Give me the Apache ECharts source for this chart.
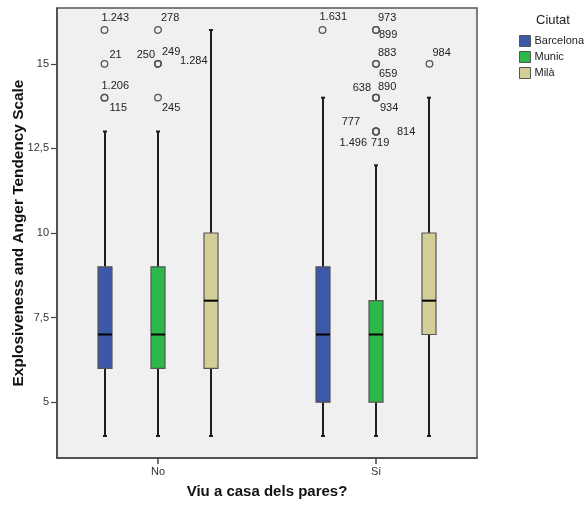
<!DOCTYPE html>
<html>
<head>
<meta charset="utf-8">
<script src="https://cdn.jsdelivr.net/npm/echarts@6/dist/echarts.min.js"></script>
<style>
html,body{margin:0;padding:0;background:#fff;}
#chart{width:587px;height:506px;}
</style>
</head>
<body>
<div id="chart"></div>
<script>
// ---- Data ----
const groups = ['No', 'Si'];
const cities = ['Barcelona', 'Munic', 'Milà'];
const yTicks = [5, 7.5, 10, 12.5, 15];
// [whiskerLow, Q1, median, Q3, whiskerHigh] per group (No, Si)
const barcelonaBox = [[4, 6, 7, 9, 13], [4, 5, 7, 9, 14]];
const municBox     = [[4, 6, 7, 9, 13], [4, 5, 7, 8, 12]];
const milaBox      = [[4, 6, 8, 10, 16], [4, 7, 8, 10, 14]];
// outliers: [groupIndex, value, case id]
const barcelonaOutliers = [[0, 16, '1.243'], [0, 15, '21'], [0, 14, '1.206'], [0, 14, '115'], [1, 16, '1.631']];
const municOutliers = [[0, 16, '278'], [0, 15, '250'], [0, 15, '249'], [0, 15, '1.284'], [0, 14, '245'],
  [1, 16, '973'], [1, 16, '899'], [1, 15, '883'], [1, 15, '659'], [1, 14, '638'], [1, 14, '890'], [1, 14, '934'],
  [1, 13, '777'], [1, 13, '814'], [1, 13, '1.496'], [1, 13, '719']];
const milaOutliers = [[1, 15, '984']];

// ---- Styling / layout ----
const colors = {Barcelona: '#3C58A8', Munic: '#2DB84A', 'Milà': '#D4CF98'};
const cityOffset = {Barcelona: -0.2454, Munic: 0, 'Milà': 0.2454};
const labelPlace = {
  '1.243': [-3, -12, 'left'], '21': [5, -9, 'left'], '1.206': [-3, -12, 'left'], '115': [5, 10, 'left'],
  '278': [3, -12, 'left'], '250': [-3, -9, 'right'], '249': [4, -12, 'left'], '1.284': [22, -3, 'left'],
  '245': [4, 10, 'left'], '1.631': [-3, -13, 'left'], '973': [2, -12, 'left'], '899': [3, 5, 'left'],
  '883': [2, -11, 'left'], '659': [3, 10, 'left'], '638': [-5, -10, 'right'], '890': [2, -11, 'left'],
  '934': [4, 10, 'left'], '777': [-16, -10, 'right'], '814': [21, 0, 'left'], '1.496': [-9, 11, 'right'],
  '719': [-5, 11, 'left'], '984': [3, -11, 'left']
};
const FONT = '"Liberation Sans", Arial, sans-serif';

const boxData = {Barcelona: barcelonaBox, Munic: municBox, 'Milà': milaBox};
const outData = {Barcelona: barcelonaOutliers, Munic: municOutliers, 'Milà': milaOutliers};

function renderBox(params, api) {
  const x = api.value(0);
  const lo = api.coord([x, api.value(1)]);
  const q1 = api.coord([x, api.value(2)]);
  const md = api.coord([x, api.value(3)]);
  const q3 = api.coord([x, api.value(4)]);
  const hi = api.coord([x, api.value(5)]);
  const cx = Math.round(lo[0]);
  const hw = 7;
  const wStyle = {stroke: '#1e1e1e', lineWidth: 2};
  return {
    type: 'group',
    children: [
      {type: 'line', shape: {x1: cx, y1: lo[1], x2: cx, y2: q1[1]}, style: wStyle},
      {type: 'line', shape: {x1: cx, y1: q3[1], x2: cx, y2: hi[1]}, style: wStyle},
      {type: 'line', shape: {x1: cx - 2, y1: lo[1], x2: cx + 2, y2: lo[1]}, style: {stroke: '#1e1e1e', lineWidth: 2}},
      {type: 'line', shape: {x1: cx - 2, y1: hi[1], x2: cx + 2, y2: hi[1]}, style: {stroke: '#1e1e1e', lineWidth: 2}},
      {type: 'rect', shape: {x: cx - hw, y: q3[1], width: 2 * hw, height: q1[1] - q3[1]},
        style: {fill: api.visual('color'), stroke: '#555', lineWidth: 1.2}},
      {type: 'line', shape: {x1: cx - hw, y1: md[1], x2: cx + hw, y2: md[1]}, style: {stroke: '#000', lineWidth: 2}}
    ]
  };
}

function renderOutlier(params, api) {
  const p = api.coord([api.value(0), api.value(1)]);
  const id = outlierIds[params.dataIndex];
  const lp = labelPlace[id] || [4, -10, 'left'];
  return {
    type: 'group',
    children: [
      {type: 'circle', shape: {cx: p[0], cy: p[1], r: 3.3}, style: {fill: 'none', stroke: '#555', lineWidth: 1.3}},
      {type: 'text', x: p[0] + lp[0], y: p[1] + lp[1],
        style: {text: id, fill: '#222', font: '11px ' + FONT, align: lp[2], verticalAlign: 'middle'}}
    ]
  };
}

const series = [];
const outlierPoints = [];
const outlierIds = [];
cities.forEach(c => {
  series.push({
    name: c, type: 'custom', renderItem: renderBox,
    itemStyle: {color: colors[c], borderColor: '#555', borderWidth: 1},
    encode: {x: 0, y: [1, 2, 3, 4, 5]},
    data: boxData[c].map((r, g) => [g + 1 + cityOffset[c]].concat(r))
  });
  outData[c].forEach(o => {
    outlierPoints.push([o[0] + 1 + cityOffset[c], o[1]]);
    outlierIds.push(o[2]);
  });
});
series.push({name: 'outliers', type: 'custom', renderItem: renderOutlier, encode: {x: 0, y: 1}, data: outlierPoints, z: 5});

const chart = echarts.init(document.getElementById('chart'), null, {renderer: 'canvas'});
chart.setOption({
  animation: false,
  backgroundColor: '#fff',
  textStyle: {fontFamily: FONT},
  title: {text: 'Ciutat', left: 536, top: 14, padding: 0,
    textStyle: {fontSize: 13, fontWeight: 'normal', color: '#222', fontFamily: FONT}},
  legend: {
    data: cities, orient: 'vertical', left: 519, top: 35, padding: 0,
    itemWidth: 11, itemHeight: 11, itemGap: 4, icon: 'rect', selectedMode: false,
    textStyle: {fontSize: 11, color: '#222', fontFamily: FONT, padding: [0, 0, 0, -1]},
    itemStyle: {borderColor: '#555', borderWidth: 1}
  },
  grid: {left: 57, top: 8, right: 110, bottom: 48, show: true, backgroundColor: '#F0F0F0',
    borderColor: '#555', borderWidth: 1.5, containLabel: false, outerBoundsMode: 'none'},
  xAxis: {
    type: 'value', min: 0.5367, max: 2.4633,
    name: 'Viu a casa dels pares?', nameLocation: 'middle', nameGap: 26, nameMoveOverlap: false,
    nameTextStyle: {fontSize: 15, fontWeight: 'bold', color: '#111', fontFamily: FONT},
    splitLine: {show: false},
    axisLine: {show: true, lineStyle: {color: '#444', width: 1.5}},
    axisTick: {show: true, length: 6, lineStyle: {color: '#444', width: 1.5}, customValues: [1, 2]},
    axisLabel: {show: true, margin: 8, fontSize: 11, color: '#333', fontFamily: FONT, customValues: [1, 2],
      formatter: v => groups[Math.round(v) - 1] || ''}
  },
  yAxis: {
    type: 'value', min: 3.35, max: 16.65,
    name: 'Explosiveness and Anger Tendency Scale', nameLocation: 'middle', nameGap: 31, nameMoveOverlap: false,
    nameTextStyle: {fontSize: 15.4, fontWeight: 'bold', color: '#111', fontFamily: FONT},
    splitLine: {show: false},
    axisLine: {show: true, lineStyle: {color: '#444', width: 1.5}},
    axisTick: {show: true, length: 6, lineStyle: {color: '#444', width: 1.2}, customValues: yTicks},
    axisLabel: {show: true, margin: 8, fontSize: 11, color: '#333', fontFamily: FONT, customValues: yTicks,
      formatter: v => String(v).replace('.', ',')}
  },
  series: series
});
</script>
</body>
</html>
